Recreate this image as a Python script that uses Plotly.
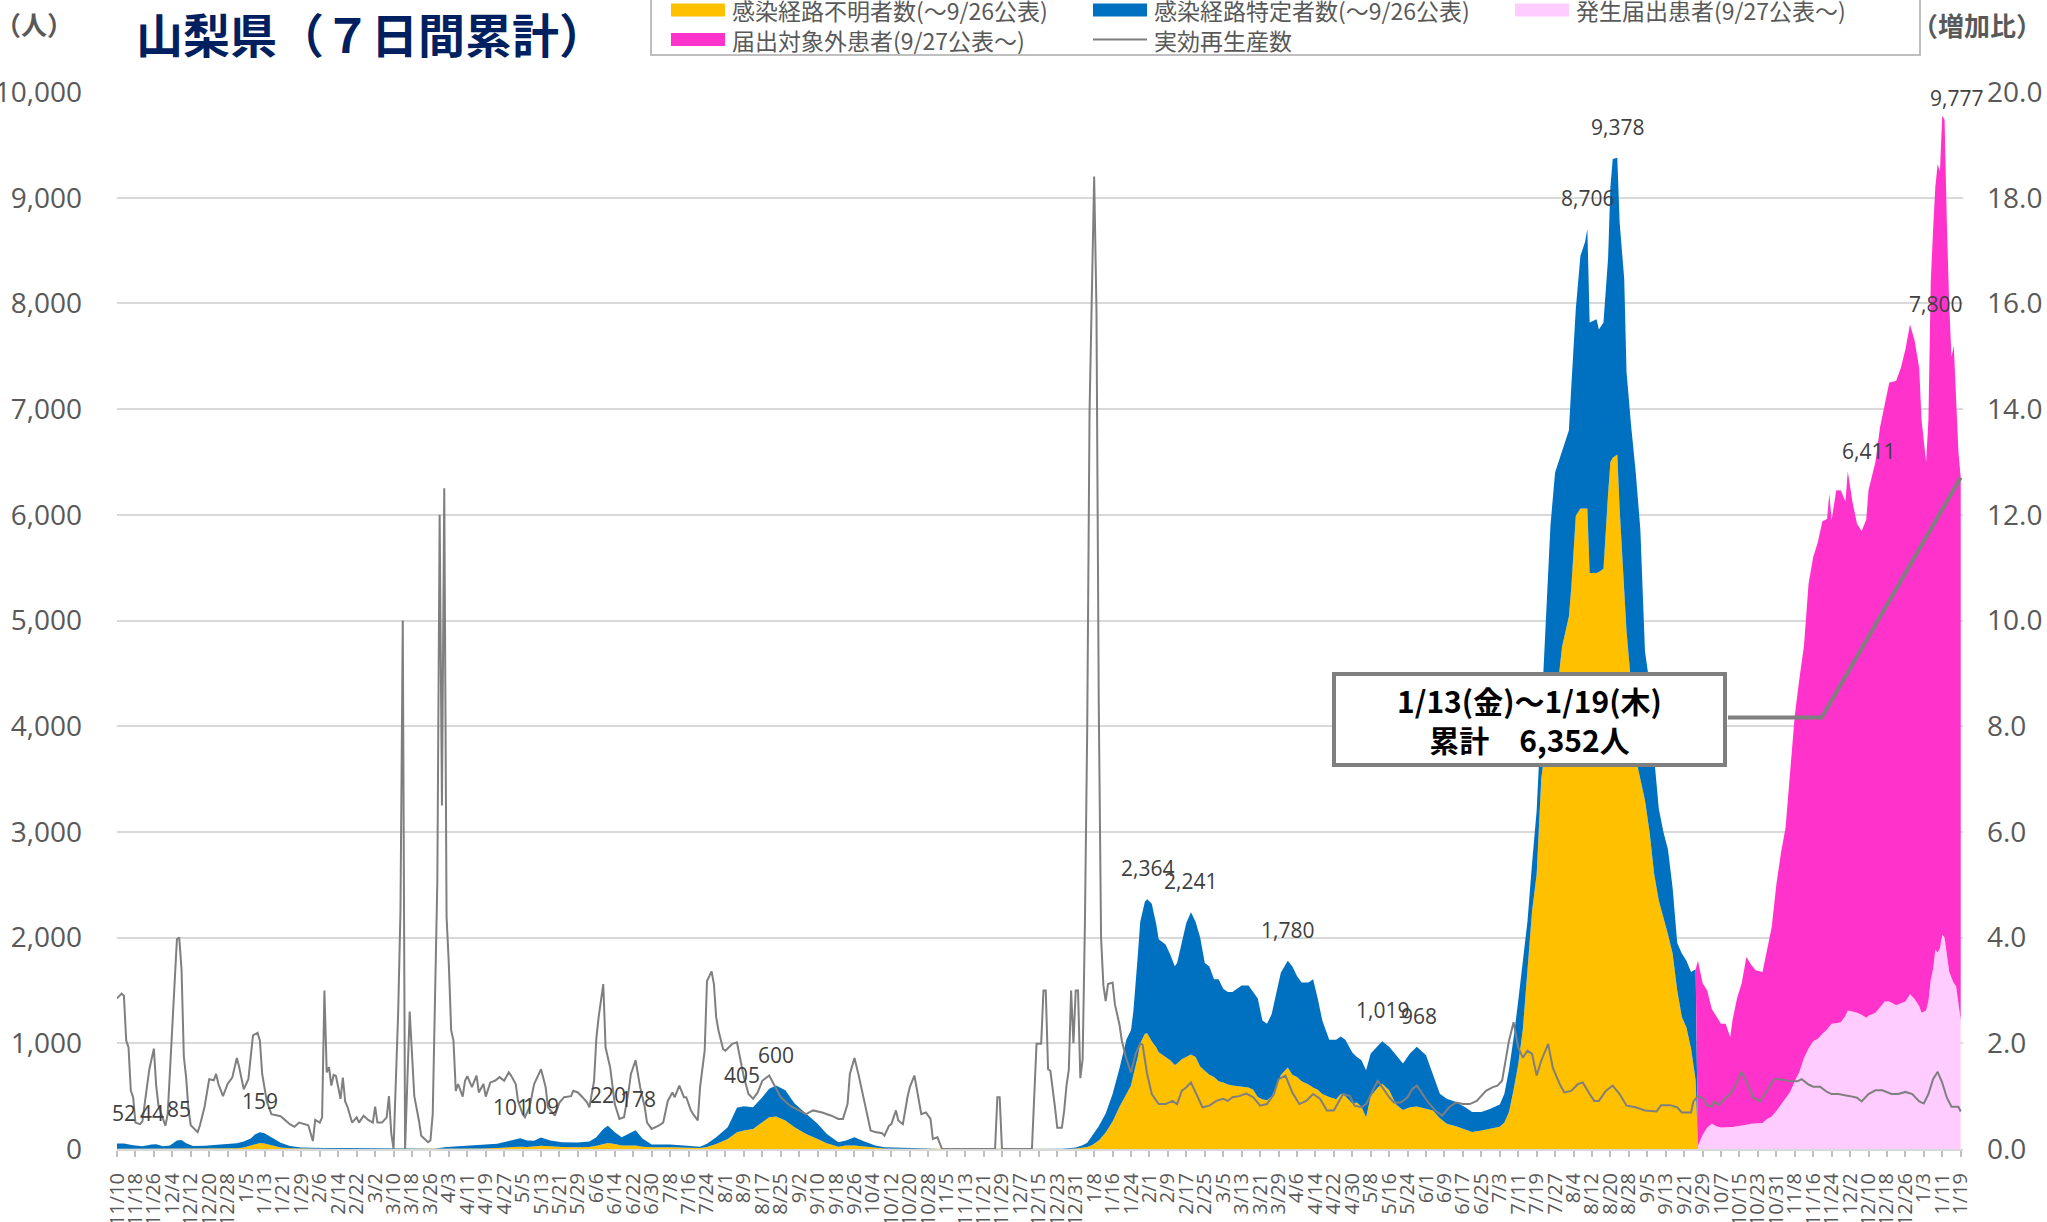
import pandas as pd
import plotly.graph_objects as go

# ---------------- data ----------------
START = "2020-11-10"
END = "2023-01-19"

# Period A: until 9/26/2022 publication
a_dates = [
    "2020-11-10", "2020-11-13", "2020-11-17", "2020-11-21", "2020-11-25", "2020-11-27", "2020-11-30",
    "2020-12-03", "2020-12-06", "2020-12-08", "2020-12-10", "2020-12-13", "2020-12-18", "2020-12-23", "2020-12-28",
    "2021-01-01", "2021-01-04", "2021-01-07", "2021-01-09", "2021-01-11", "2021-01-13", "2021-01-15", "2021-01-17",
    "2021-01-20", "2021-01-24", "2021-01-29",
    "2021-02-08", "2021-02-18", "2021-02-28",
    "2021-03-10", "2021-03-20", "2021-03-28",
    "2021-04-02", "2021-04-09", "2021-04-17", "2021-04-24", "2021-04-29",
    "2021-05-02", "2021-05-04", "2021-05-07", "2021-05-10", "2021-05-13", "2021-05-17", "2021-05-22", "2021-05-29",
    "2021-06-03", "2021-06-06", "2021-06-09", "2021-06-11", "2021-06-14", "2021-06-17", "2021-06-20", "2021-06-23",
    "2021-06-26", "2021-06-30",
    "2021-07-08", "2021-07-16", "2021-07-21", "2021-07-24", "2021-07-28",
    "2021-08-02", "2021-08-06", "2021-08-09", "2021-08-13", "2021-08-17", "2021-08-20", "2021-08-23", "2021-08-27",
    "2021-08-31",
    "2021-09-05", "2021-09-10", "2021-09-14", "2021-09-19", "2021-09-22", "2021-09-26", "2021-09-30",
    "2021-10-05", "2021-10-09", "2021-10-17", "2021-10-26",
    "2021-11-02", "2021-11-10", "2021-11-25",
    "2021-12-10", "2021-12-25", "2021-12-31",
    "2022-01-03", "2022-01-05", "2022-01-07", "2022-01-10", "2022-01-13", "2022-01-16", "2022-01-19", "2022-01-22",
    "2022-01-24", "2022-01-25", "2022-01-27", "2022-01-28", "2022-01-30", "2022-01-31",
    "2022-02-02", "2022-02-04", "2022-02-05", "2022-02-08", "2022-02-10", "2022-02-12", "2022-02-13", "2022-02-15",
    "2022-02-17", "2022-02-19", "2022-02-21", "2022-02-23", "2022-02-25", "2022-02-27",
    "2022-03-01", "2022-03-03", "2022-03-05", "2022-03-07", "2022-03-09", "2022-03-11", "2022-03-13", "2022-03-16",
    "2022-03-18", "2022-03-20", "2022-03-22", "2022-03-24", "2022-03-26", "2022-03-28", "2022-03-30",
    "2022-04-02", "2022-04-04", "2022-04-06", "2022-04-08", "2022-04-11", "2022-04-13", "2022-04-15", "2022-04-17",
    "2022-04-20", "2022-04-23", "2022-04-25", "2022-04-27", "2022-04-30",
    "2022-05-02", "2022-05-04", "2022-05-06", "2022-05-08", "2022-05-11", "2022-05-13", "2022-05-16", "2022-05-19",
    "2022-05-22", "2022-05-25", "2022-05-28",
    "2022-06-01", "2022-06-04", "2022-06-07", "2022-06-10", "2022-06-14", "2022-06-18", "2022-06-21", "2022-06-25",
    "2022-06-29",
    "2022-07-03", "2022-07-05", "2022-07-07", "2022-07-09", "2022-07-11", "2022-07-13", "2022-07-15", "2022-07-17",
    "2022-07-19", "2022-07-21", "2022-07-23", "2022-07-25", "2022-07-27", "2022-07-30",
    "2022-08-02", "2022-08-03", "2022-08-05", "2022-08-07", "2022-08-09", "2022-08-10", "2022-08-11", "2022-08-14",
    "2022-08-15", "2022-08-17", "2022-08-19", "2022-08-20", "2022-08-21", "2022-08-23", "2022-08-24", "2022-08-26",
    "2022-08-27", "2022-08-29", "2022-08-31",
    "2022-09-02", "2022-09-04", "2022-09-06", "2022-09-08", "2022-09-10", "2022-09-12", "2022-09-14", "2022-09-16",
    "2022-09-18", "2022-09-20", "2022-09-22", "2022-09-24", "2022-09-26",
]
# 感染経路不明者数（～9/26公表）
a_unknown = [
    2, 2, 2, 2, 3, 3, 2,
    2, 4, 5, 4, 3, 4, 5, 6,
    8, 15, 35, 50, 56, 52, 40, 28, 15, 6, 3,
    2, 1, 1,
    0, 0, 0,
    1, 3, 5, 10, 18,
    22, 22, 18, 22, 30, 25, 18, 16,
    18, 30, 48, 57, 48, 32, 32, 32, 22, 16,
    16, 12, 10, 18, 48,
    95, 158, 174, 190, 254, 300, 307, 269, 206,
    143, 95, 54, 22, 32, 32, 22,
    10, 5, 3, 2,
    1, 0, 0,
    0, 1, 4,
    10, 20, 35, 80, 155, 260, 400, 520, 600, 700, 880, 1000, 1090, 1094,
    1020, 960, 915, 870, 840, 795, 810, 850, 870, 895, 870, 780, 740, 702,
    680, 641, 630, 611, 600, 593, 590, 581, 560, 491, 470, 461, 500, 581, 700,
    770, 702, 680, 641, 610, 581, 560, 521, 491, 470, 521, 500, 430,
    440, 400, 301, 500, 580, 618, 555, 420, 370, 396, 403,
    380, 365, 290, 240, 215, 180, 160, 174, 190,
    210, 250, 350, 560, 800, 1130, 1650, 2250, 2600, 3500, 3850, 4050, 4150, 4750,
    5040, 5300, 5990, 6060, 6060, 6060, 5450, 5450, 5460, 5490, 6200, 6500, 6540, 6570, 6060, 5320,
    4900, 4400, 3700,
    3500, 3300, 3000, 2600, 2350, 2200, 2030, 1850, 1500, 1250, 1150, 950, 650,
]
# 感染経路特定者数（～9/26公表）
a_known = [
    50, 50, 33, 23, 39, 41, 23,
    30, 76, 80, 51, 25, 26, 33, 42,
    47, 55, 65, 90, 103, 98, 85, 67, 45, 22, 11,
    8, 7, 4,
    2, 2, 5,
    17, 25, 30, 40, 57,
    73, 79, 62, 56, 79, 55, 47, 46,
    52, 80, 142, 163, 110, 79, 113, 146, 78, 26,
    26, 18, 12, 32, 62,
    111, 232, 231, 206, 236, 270, 293, 286, 224,
    190, 143, 89, 41, 47, 79, 51,
    22, 11, 7, 4,
    2, 1, 1,
    1, 2, 11,
    25, 40, 85, 135, 180, 260, 365, 515, 525, 600, 970, 1150, 1250, 1270,
    1300, 1160, 1070, 1065, 1000, 935, 950, 1110, 1270, 1346, 1280, 1220, 1020, 1025,
    926, 965, 886, 875, 886, 923, 956, 965, 926, 934, 745, 724, 775, 905, 967,
    1010, 1025, 957, 935, 966, 1025, 865, 694, 543, 564, 543, 534, 483,
    430, 440, 444, 403, 387, 401, 412, 468, 438, 507, 565,
    508, 348, 233, 236, 229, 216, 189, 175, 190,
    210, 273, 400, 490, 600, 670, 500, 450, 600, 600, 1150, 1850, 2250, 1850,
    1760, 1900, 1960, 2390, 2520, 2646, 2370, 2400, 2294, 2330, 2230, 2600, 2825, 2808, 2710, 2910,
    2450, 2440, 2700,
    2360, 1410, 1400, 1100, 870, 800, 800, 620, 450, 600, 630, 725, 1050,
]

# Period B: from 9/27/2022 publication
b_dates = [
    "2022-09-27", "2022-09-29",
    "2022-10-01", "2022-10-03", "2022-10-05", "2022-10-07", "2022-10-09", "2022-10-11", "2022-10-12", "2022-10-14",
    "2022-10-16", "2022-10-18", "2022-10-20", "2022-10-22", "2022-10-25", "2022-10-27", "2022-10-29", "2022-10-31",
    "2022-11-02", "2022-11-04", "2022-11-06", "2022-11-08", "2022-11-10", "2022-11-12", "2022-11-14", "2022-11-16",
    "2022-11-18", "2022-11-20", "2022-11-22", "2022-11-23", "2022-11-24", "2022-11-26", "2022-11-28", "2022-11-30",
    "2022-12-01", "2022-12-03", "2022-12-05", "2022-12-07", "2022-12-09", "2022-12-10", "2022-12-13", "2022-12-15",
    "2022-12-17", "2022-12-19", "2022-12-22", "2022-12-24", "2022-12-26", "2022-12-28", "2022-12-30",
    "2023-01-01", "2023-01-02", "2023-01-04", "2023-01-05", "2023-01-06", "2023-01-07", "2023-01-08", "2023-01-09",
    "2023-01-10", "2023-01-11", "2023-01-12", "2023-01-13", "2023-01-14", "2023-01-15", "2023-01-16", "2023-01-17",
    "2023-01-18", "2023-01-19",
]
# 発生届出患者(9/27公表～)
b_reported = [
    30, 133,
    203, 238, 215, 203, 203, 205, 208, 215, 220, 230, 238, 238, 245, 285, 308, 360,
    420, 484, 540, 640, 729, 860, 950, 1020, 1044, 1090, 1130, 1160, 1185, 1190, 1199, 1260,
    1311, 1300, 1290, 1270, 1241, 1260, 1290, 1340, 1395, 1395, 1360, 1380, 1395, 1465, 1420,
    1350, 1290, 1310, 1400, 1600, 1700, 1886, 1860, 1900, 2026, 2000, 1816, 1680, 1620, 1570, 1540,
    1400, 1220,
]
# 届出対象外患者(9/27公表～)
b_outside = [
    1750, 1437,
    1297, 1087, 1040, 982, 982, 855, 1012, 1215, 1350, 1586, 1508, 1452, 1430, 1615, 1792, 2140,
    2380, 2556, 3060, 3460, 3721, 3900, 4400, 4580, 4696, 4850, 4830, 5040, 4765, 5042, 5031, 4867,
    5100, 4827, 4626, 4576, 4711, 4972, 5210, 5488, 5643, 5855, 5909, 6009, 6169, 6335, 6230,
    6039, 5610, 5190, 5500, 6600, 6985, 7220, 7456, 7350, 7751, 7737, 6940, 6320, 5874, 6030, 5560,
    5200, 5132,
]

# 実効再生産数 (right axis)
r_dates = [
    "2020-11-10", "2020-11-12", "2020-11-13", "2020-11-14", "2020-11-15", "2020-11-16", "2020-11-17", "2020-11-18",
    "2020-11-20", "2020-11-21", "2020-11-22", "2020-11-24", "2020-11-26", "2020-11-27", "2020-11-28", "2020-11-30",
    "2020-12-01", "2020-12-02", "2020-12-04", "2020-12-06", "2020-12-07", "2020-12-08", "2020-12-09", "2020-12-10",
    "2020-12-11", "2020-12-12", "2020-12-15", "2020-12-16", "2020-12-18", "2020-12-20", "2020-12-22", "2020-12-23",
    "2020-12-24", "2020-12-26", "2020-12-28", "2020-12-30",
    "2021-01-01", "2021-01-02", "2021-01-04", "2021-01-06", "2021-01-08", "2021-01-10", "2021-01-11", "2021-01-12",
    "2021-01-14", "2021-01-16", "2021-01-20", "2021-01-24", "2021-01-26", "2021-01-28",
    "2021-02-01", "2021-02-03", "2021-02-04", "2021-02-06", "2021-02-07", "2021-02-08", "2021-02-09", "2021-02-10",
    "2021-02-11", "2021-02-12", "2021-02-13", "2021-02-15", "2021-02-16", "2021-02-17", "2021-02-18", "2021-02-20",
    "2021-02-22", "2021-02-23", "2021-02-25", "2021-02-27",
    "2021-03-01", "2021-03-02", "2021-03-03", "2021-03-05", "2021-03-07", "2021-03-08", "2021-03-09", "2021-03-10",
    "2021-03-12", "2021-03-13", "2021-03-14", "2021-03-15", "2021-03-17", "2021-03-18", "2021-03-19", "2021-03-21",
    "2021-03-22", "2021-03-25", "2021-03-26", "2021-03-27", "2021-03-29", "2021-03-30", "2021-03-31",
    "2021-04-01", "2021-04-02", "2021-04-03", "2021-04-04", "2021-04-05", "2021-04-06", "2021-04-07", "2021-04-09",
    "2021-04-10", "2021-04-11", "2021-04-13", "2021-04-15", "2021-04-16", "2021-04-18", "2021-04-19", "2021-04-21",
    "2021-04-23", "2021-04-25", "2021-04-27", "2021-04-29", "2021-04-30",
    "2021-05-02", "2021-05-03", "2021-05-05", "2021-05-06", "2021-05-08", "2021-05-10", "2021-05-12", "2021-05-13",
    "2021-05-15", "2021-05-16", "2021-05-19", "2021-05-21", "2021-05-23", "2021-05-26", "2021-05-27", "2021-05-29",
    "2021-05-31",
    "2021-06-02", "2021-06-03", "2021-06-05", "2021-06-06", "2021-06-07", "2021-06-09", "2021-06-10", "2021-06-12",
    "2021-06-14", "2021-06-16", "2021-06-18", "2021-06-20", "2021-06-21", "2021-06-23", "2021-06-25", "2021-06-27",
    "2021-06-28", "2021-06-30",
    "2021-07-03", "2021-07-05", "2021-07-07", "2021-07-09", "2021-07-10", "2021-07-12", "2021-07-14", "2021-07-15",
    "2021-07-17", "2021-07-18", "2021-07-20", "2021-07-21", "2021-07-23", "2021-07-24", "2021-07-26", "2021-07-27",
    "2021-07-28", "2021-07-29", "2021-07-31",
    "2021-08-01", "2021-08-04", "2021-08-06", "2021-08-07", "2021-08-09", "2021-08-11", "2021-08-13", "2021-08-15",
    "2021-08-17", "2021-08-20", "2021-08-22", "2021-08-25", "2021-08-29",
    "2021-09-02", "2021-09-05", "2021-09-08", "2021-09-12", "2021-09-16", "2021-09-19", "2021-09-21", "2021-09-23",
    "2021-09-24", "2021-09-26", "2021-09-28",
    "2021-10-01", "2021-10-03", "2021-10-05", "2021-10-08", "2021-10-09", "2021-10-11", "2021-10-12", "2021-10-14",
    "2021-10-15", "2021-10-17", "2021-10-19", "2021-10-20", "2021-10-22", "2021-10-24", "2021-10-25", "2021-10-27",
    "2021-10-29", "2021-10-30",
    "2021-11-01", "2021-11-03", "2021-11-26", "2021-11-27", "2021-11-28", "2021-11-29",
    "2021-12-12", "2021-12-14", "2021-12-16", "2021-12-17", "2021-12-18", "2021-12-19", "2021-12-20", "2021-12-22",
    "2021-12-23", "2021-12-25", "2021-12-26", "2021-12-27", "2021-12-28", "2021-12-29", "2021-12-30", "2021-12-31",
    "2022-01-01", "2022-01-02", "2022-01-03", "2022-01-04", "2022-01-05", "2022-01-06", "2022-01-07", "2022-01-08",
    "2022-01-09", "2022-01-10", "2022-01-11", "2022-01-12", "2022-01-13", "2022-01-14", "2022-01-16", "2022-01-17",
    "2022-01-19", "2022-01-20", "2022-01-22", "2022-01-24", "2022-01-26", "2022-01-28", "2022-01-29", "2022-01-31",
    "2022-02-02", "2022-02-05", "2022-02-08", "2022-02-11", "2022-02-13", "2022-02-15", "2022-02-17", "2022-02-19",
    "2022-02-21", "2022-02-24", "2022-02-27",
    "2022-03-02", "2022-03-05", "2022-03-07", "2022-03-09", "2022-03-12", "2022-03-15", "2022-03-18", "2022-03-21",
    "2022-03-24", "2022-03-27", "2022-03-29",
    "2022-04-01", "2022-04-04", "2022-04-07", "2022-04-10", "2022-04-13", "2022-04-16", "2022-04-19", "2022-04-22",
    "2022-04-26", "2022-04-29",
    "2022-05-01", "2022-05-04", "2022-05-06", "2022-05-09", "2022-05-11", "2022-05-13", "2022-05-16", "2022-05-18",
    "2022-05-21", "2022-05-24", "2022-05-26", "2022-05-28", "2022-05-30",
    "2022-06-02", "2022-06-05", "2022-06-08", "2022-06-11", "2022-06-14", "2022-06-17", "2022-06-20", "2022-06-23",
    "2022-06-25", "2022-06-27", "2022-06-30",
    "2022-07-02", "2022-07-04", "2022-07-07", "2022-07-09", "2022-07-11", "2022-07-13", "2022-07-15", "2022-07-17",
    "2022-07-19", "2022-07-21", "2022-07-24", "2022-07-26", "2022-07-29", "2022-07-31",
    "2022-08-03", "2022-08-06", "2022-08-08", "2022-08-11", "2022-08-13", "2022-08-15", "2022-08-18", "2022-08-21",
    "2022-08-24", "2022-08-27", "2022-08-31",
    "2022-09-04", "2022-09-09", "2022-09-11", "2022-09-15", "2022-09-18", "2022-09-20", "2022-09-24", "2022-09-25",
    "2022-09-27", "2022-09-29",
    "2022-10-01", "2022-10-03", "2022-10-04", "2022-10-06", "2022-10-09", "2022-10-11", "2022-10-13", "2022-10-15",
    "2022-10-16", "2022-10-18", "2022-10-19", "2022-10-21", "2022-10-24", "2022-10-26", "2022-10-28", "2022-10-30",
    "2022-11-02", "2022-11-06", "2022-11-09", "2022-11-11", "2022-11-14", "2022-11-16", "2022-11-19", "2022-11-22",
    "2022-11-24", "2022-11-27",
    "2022-12-02", "2022-12-05", "2022-12-07", "2022-12-10", "2022-12-13", "2022-12-16", "2022-12-20", "2022-12-23",
    "2022-12-26", "2022-12-29",
    "2023-01-01", "2023-01-03", "2023-01-05", "2023-01-07", "2023-01-09", "2023-01-11", "2023-01-13", "2023-01-15",
    "2023-01-18", "2023-01-19",
]
r_values = [
    2.85, 2.94, 2.9, 2.05, 1.92, 1.1, 0.98, 0.5, 0.47, 0.52, 0.85, 1.5, 1.9, 1.2, 0.82, 0.55,
    0.44, 0.66, 2.4, 3.97, 4.0, 3.4, 1.75, 1.35, 0.75, 0.45, 0.32, 0.45, 0.8, 1.32, 1.3, 1.42,
    1.23, 1.0, 1.23, 1.35,
    1.72, 1.55, 1.13, 1.32, 2.15, 2.2, 2.05, 1.42, 0.9, 0.66, 0.62, 0.47, 0.42, 0.5,
    0.45, 0.15, 0.55, 0.5, 0.6, 3.0, 1.45, 1.55, 1.2, 1.4, 1.38, 0.95, 1.35, 0.9, 0.8, 0.5,
    0.6, 0.5, 0.63, 0.55,
    0.5, 0.8, 0.5, 0.5, 0.6, 1.0, 0.3, 0.0, 2.58, 4.5, 10.0, 0.0, 2.6, 1.9, 1.0, 0.54,
    0.25, 0.13, 0.16, 0.66, 5.07, 12.0, 6.5,
    12.5, 4.4, 3.48, 2.25, 2.05, 1.1, 1.23, 0.99, 1.29, 1.38, 1.17, 1.39, 1.07, 1.23, 0.99, 1.26,
    1.29, 1.36, 1.29, 1.45, 1.39,
    1.23, 0.91, 0.66, 0.6, 0.79, 1.23, 1.42, 1.51, 1.17, 0.79, 0.63, 0.88, 0.98, 1.0, 1.1, 1.07,
    0.98,
    0.88, 0.79, 1.29, 2.1, 2.5, 3.12, 1.92, 1.54, 0.85, 0.57, 0.6, 1.1, 1.42, 1.68, 1.17, 0.79,
    0.5, 0.38,
    0.44, 0.5, 0.91, 1.07, 0.98, 1.2, 0.98, 0.98, 0.73, 0.66, 0.54, 1.17, 1.86, 3.18, 3.36, 3.12,
    2.49, 2.24, 1.89,
    1.86, 1.99, 2.02, 1.8, 1.36, 1.04, 0.95, 1.07, 1.29, 1.39, 1.23, 0.98, 0.82,
    0.73, 0.66, 0.73, 0.69, 0.63, 0.57, 0.57, 0.85, 1.42, 1.72, 1.36,
    0.79, 0.35, 0.32, 0.3, 0.25, 0.44, 0.47, 0.73, 0.54, 0.47, 0.98, 1.17, 1.39, 0.88, 0.66, 0.69,
    0.57, 0.19,
    0.22, 0.0, 0.0, 0.98, 0.98, 0.0,
    0.0, 1.99, 1.99, 3.0, 3.0, 1.51, 1.48, 0.79, 0.4, 0.4, 0.73, 1.2, 1.5, 3.0, 2.0, 3.0,
    3.0, 1.34, 1.7, 4.3, 8.0, 13.95, 16.0, 18.4, 15.9, 8.4, 4.0, 3.1, 2.8, 3.12, 3.15, 2.74,
    2.35, 2.05, 1.7, 1.45, 1.8, 2.0, 1.97, 1.42,
    1.04, 0.85, 0.85, 0.91, 0.85, 1.1, 1.17, 1.26, 1.07, 0.79, 0.82,
    0.91, 0.95, 0.91, 0.98, 1.0, 1.05, 0.98, 0.82, 0.85, 1.04, 1.32,
    1.39, 1.07, 0.85, 0.91, 1.04, 0.95, 0.73, 0.73, 1.04, 1.0,
    0.82, 0.79, 0.85, 1.1, 1.29, 1.17, 0.98, 0.88, 0.88, 0.98, 1.13, 1.2, 1.07,
    0.88, 0.73, 0.63, 0.79, 0.88, 0.85, 0.85, 0.91, 1.0, 1.1, 1.17,
    1.2, 1.29, 2.05, 2.4, 1.92, 1.73, 1.86, 1.8, 1.39, 1.67, 1.99, 1.54, 1.23, 1.07,
    1.1, 1.23, 1.26, 1.04, 0.91, 0.91, 1.1, 1.2, 1.04, 0.82, 0.79,
    0.73, 0.71, 0.83, 0.83, 0.79, 0.69, 0.69, 0.9, 1.0, 0.97,
    0.83, 0.8, 0.9, 0.83, 0.97, 1.04, 1.18, 1.39, 1.46, 1.28, 1.18, 0.97, 0.9, 1.04, 1.18, 1.32,
    1.32, 1.28, 1.28, 1.32, 1.22, 1.18, 1.18, 1.08, 1.04, 1.04,
    1.0, 0.97, 0.9, 1.04, 1.11, 1.11, 1.04, 1.04, 1.08, 1.04,
    0.9, 0.86, 1.04, 1.32, 1.46, 1.25, 0.97, 0.8, 0.8, 0.71,
]

# data labels shown on the chart
label_dates = [
    "2020-11-13", "2020-11-25", "2020-12-07", "2021-01-11", "2021-04-30", "2021-05-13", "2021-06-11",
    "2021-06-24", "2021-08-08", "2021-08-23", "2022-01-31", "2022-02-19", "2022-04-02", "2022-05-13",
    "2022-05-29", "2022-08-10", "2022-08-23", "2022-12-10", "2023-01-08", "2023-01-17",
]
label_values = [52, 44, 85, 159, 101, 109, 220, 178, 405, 600, 2364, 2241, 1780, 1019, 968,
                8706, 9378, 6411, 7800, 9777]
label_shift = [31] * 17 + [20, 21, 18]   # style: pixel offset above point

assert len(a_dates) == len(a_unknown) == len(a_known)
assert len(b_dates) == len(b_reported) == len(b_outside)
assert len(r_dates) == len(r_values)
assert len(label_dates) == len(label_values) == len(label_shift)

# ---------------- layout geometry ----------------
W, H = 2047, 1222
ML, MR, MT, MB = 117, 84, 92, 73
PW, PH = W - ML - MR, H - MT - MB


def px(x):
    return (x - ML) / PW


def py(y):
    return (H - MB - y) / PH


FONT = "Open Sans, Noto Sans CJK JP, sans-serif"
JP = "Noto Sans CJK JP, sans-serif"
GRAY = "#595959"
C_UNK, C_KNOWN, C_REP, C_OUT, C_R = "#FFC000", "#0070C0", "#FFCCFF", "#FF33CC", "#7F7F7F"

start = pd.Timestamp(START)
end = pd.Timestamp(END)
x_end = end + pd.Timedelta(days=1)
span_days = (x_end - start).days

tick_dates = pd.date_range(start, end, freq="8D")
tick_text = [f"{d.month}/{d.day}" for d in tick_dates]

# ---------------- figure ----------------
fig = go.Figure()
common = dict(mode="lines", stackgroup="cases", line=dict(width=0), hoverinfo="skip")
fig.add_trace(go.Scatter(x=a_dates, y=a_unknown, name="感染経路不明者数(～9/26公表)",
                         fillcolor=C_UNK, **common))
fig.add_trace(go.Scatter(x=a_dates, y=a_known, name="感染経路特定者数(～9/26公表)",
                         fillcolor=C_KNOWN, **common))
fig.add_trace(go.Scatter(x=b_dates, y=b_reported, name="発生届出患者(9/27公表～)",
                         fillcolor=C_REP, **common))
fig.add_trace(go.Scatter(x=b_dates, y=b_outside, name="届出対象外患者(9/27公表～)",
                         fillcolor=C_OUT, **common))
fig.add_trace(go.Scatter(x=r_dates, y=r_values, name="実効再生産数", mode="lines",
                         line=dict(color=C_R, width=2), yaxis="y2", hoverinfo="skip"))

annotations = []
for d, v, s in zip(label_dates, label_values, label_shift):
    annotations.append(dict(x=d, y=v, xref="x", yref="y", text=f"{v:,}", showarrow=False,
                            xanchor="center", yanchor="middle", yshift=s,
                            font=dict(family=FONT, size=21, color="#404040")))

# unit labels
annotations.append(dict(x=px(34), y=py(23), xref="paper", yref="paper", text="（人）", showarrow=False,
                        xanchor="center", yanchor="middle",
                        font=dict(family=JP, size=26, color=GRAY, weight=700)))
annotations.append(dict(x=px(1977), y=py(24), xref="paper", yref="paper", text="（増加比）", showarrow=False,
                        xanchor="center", yanchor="middle",
                        font=dict(family=JP, size=26, color=GRAY, weight=700)))

# manual legend (two rows inside a bordered box)
shapes = [dict(type="rect", xref="paper", yref="paper", x0=px(651), x1=px(1920), y0=py(55), y1=py(-5),
               line=dict(color="#BFBFBF", width=2), fillcolor="white")]
legend_items = [
    ("感染経路不明者数(～9/26公表)", C_UNK, 671, 10, "box"),
    ("感染経路特定者数(～9/26公表)", C_KNOWN, 1093, 10, "box"),
    ("発生届出患者(9/27公表～)", C_REP, 1515, 10, "box"),
    ("届出対象外患者(9/27公表～)", C_OUT, 671, 39.5, "box"),
    ("実効再生産数", C_R, 1093, 39.5, "line"),
]
for text, col, x0, yc, kind in legend_items:
    if kind == "box":
        shapes.append(dict(type="rect", xref="paper", yref="paper", x0=px(x0), x1=px(x0 + 54),
                           y0=py(yc + 6.5), y1=py(yc - 6.5), line=dict(width=0), fillcolor=col))
    else:
        shapes.append(dict(type="line", xref="paper", yref="paper", x0=px(x0), x1=px(x0 + 54),
                           y0=py(yc), y1=py(yc), line=dict(color=col, width=2)))
    annotations.append(dict(x=px(x0 + 59), y=py(yc), xref="paper", yref="paper", text=text,
                            showarrow=False, xanchor="left", yanchor="middle",
                            font=dict(family=JP, size=23, color=GRAY)))

# callout: last 7-day total
wd = "月火水木金土日"
last = pd.Timestamp(b_dates[-1])
first = last - pd.Timedelta(days=6)
total_last = b_reported[-1] + b_outside[-1]
box_text = (f"{first.month}/{first.day}({wd[first.weekday()]})～{last.month}/{last.day}({wd[last.weekday()]})"
            f"<br>累計　{total_last:,}人")
annotations.append(dict(x=px(1529.4), y=py(719.2), xref="paper", yref="paper", text=box_text,
                        showarrow=False, align="center", xanchor="center", yanchor="middle",
                        width=383, height=83,
                        bgcolor="white", bordercolor="#7F7F7F", borderwidth=4, borderpad=2,
                        font=dict(family=JP, size=30, color="black", weight=700)))
end_px = (last - start).days / span_days
end_py = total_last / 10000
shapes.append(dict(type="path", xref="paper", yref="paper",
                   path=f"M {px(1728)},{py(717.5)} L {px(1821.7)},{py(717.5)} L {end_px},{end_py}",
                   line=dict(color="#7F7F7F", width=4)))

fig.update_layout(
    width=W, height=H,
    margin=dict(l=ML, r=MR, t=MT, b=MB, autoexpand=False),
    paper_bgcolor="white", plot_bgcolor="white",
    showlegend=False,
    title=dict(text="山梨県（７日間累計）", x=136 / W, xref="container", xanchor="left",
               y=1 - 37 / H, yref="container", yanchor="middle", automargin=False,
               font=dict(family=JP, size=47, color="#002060", weight=700)),
    xaxis=dict(type="date", range=[start, x_end], tickvals=list(tick_dates), ticktext=tick_text,
               tickangle=-90, tickfont=dict(family=FONT, size=20, color=GRAY),
               ticks="outside", ticklen=6, tickwidth=1.5, tickcolor="#BFBFBF",
               showline=True, linecolor="#D9D9D9", linewidth=2, showgrid=False, zeroline=False,
               ticklabelstandoff=8, automargin=False),
    yaxis=dict(range=[0, 10000], dtick=1000, tickformat=",d",
               tickfont=dict(family=FONT, size=28, color=GRAY),
               showgrid=True, gridcolor="#D9D9D9", gridwidth=2, zeroline=False, showline=False,
               ticklabelstandoff=34, automargin=False),
    yaxis2=dict(range=[0, 20], dtick=2, tickformat=".1f", overlaying="y", side="right",
                tickfont=dict(family=FONT, size=28, color=GRAY),
                showgrid=False, zeroline=False, showline=False, ticklabelstandoff=23, automargin=False),
    shapes=shapes,
    annotations=annotations,
)

fig.write_html("out.html", config={"displayModeBar": False},
               post_script="document.body.style.margin='0';document.body.style.overflow='hidden';")
